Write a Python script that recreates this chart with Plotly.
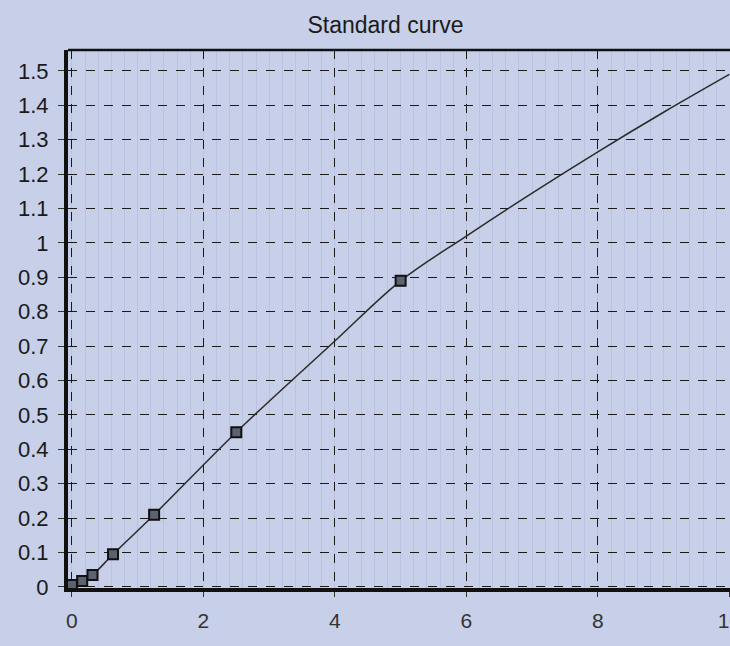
import plotly.graph_objects as go

# Standards (concentration vs absorbance)
std_conc = [0, 0.156, 0.3125, 0.625, 1.25, 2.5, 5]
std_abs = [0.006, 0.017, 0.035, 0.095, 0.21, 0.45, 0.89]

# Fitted curve
fit_conc = [0, 0.156, 0.3125, 0.625, 1.25, 2.5, 4, 5, 6, 7, 8, 9, 10]
fit_abs = [0.006, 0.017, 0.035, 0.095, 0.21, 0.45, 0.715, 0.89, 1.02, 1.145, 1.265, 1.38, 1.49]

y_ticks = [0, 0.1, 0.2, 0.3, 0.4, 0.5, 0.6, 0.7, 0.8, 0.9, 1, 1.1, 1.2, 1.3, 1.4, 1.5]
y_labels = ['0', '0.1', '0.2', '0.3', '0.4', '0.5', '0.6', '0.7', '0.8', '0.9',
            '1', '1.1', '1.2', '1.3', '1.4', '1.5']
x_ticks = [0, 2, 4, 6, 8, 10]

bg = '#c8cfe9'

fig = go.Figure()

fig.add_trace(go.Scatter(
    x=fit_conc, y=fit_abs, mode='lines',
    line=dict(color='#2a2a2a', width=1.5, shape='spline', smoothing=1.0),
    hoverinfo='skip', showlegend=False
))

fig.add_trace(go.Scatter(
    x=std_conc, y=std_abs, mode='markers',
    marker=dict(symbol='square', size=10, color='#5d6270',
                line=dict(color='#111111', width=2)),
    showlegend=False
))

# top border (thinner than the axes)
fig.add_shape(type='line', xref='paper', yref='paper', x0=0, x1=1, y0=1, y1=1,
              line=dict(color='#111111', width=2.5))

fig.update_layout(
    width=730, height=646,
    paper_bgcolor=bg, plot_bgcolor=bg,
    margin=dict(l=68, r=0, t=50, b=58),
    title=dict(text='Standard curve', x=0.528, xanchor='center',
               y=1 - 25 / 646, yanchor='middle',
               font=dict(family='Liberation Sans, Arial', size=23, color='#1a1a1a')),
    font=dict(family='Liberation Sans, Arial', color='#1a1a1a'),
    xaxis=dict(
        range=[-0.06, 10.01], tickvals=x_ticks, ticktext=[str(v) for v in x_ticks],
        showgrid=True, gridcolor='#1a1a1a', gridwidth=1.2, griddash='dash',
        showline=True, linecolor='#111111', linewidth=4,
        ticks='outside', ticklen=5, tickcolor='#333333', tickwidth=1,
        tickfont=dict(size=21, color='#333333'), ticklabelstandoff=6,
        ticklabeloverflow='allow', automargin=False,
        zeroline=False,
        minor=dict(dtick=0.2, showgrid=True, griddash='solid',
                   gridcolor='rgba(110,120,160,0.14)', gridwidth=1),
    ),
    yaxis=dict(
        range=[-0.003, 1.561], tickvals=y_ticks, ticktext=y_labels,
        showgrid=True, gridcolor='#1a1a1a', gridwidth=1.2, griddash='dash',
        showline=True, linecolor='#111111', linewidth=4,
        ticks='outside', ticklen=6, tickcolor='#333333', tickwidth=1,
        tickfont=dict(size=22, color='#1a1a1a'), ticklabelstandoff=5,
        automargin=False,
        zeroline=False,
    ),
)

fig.write_html("out.html",
               config={'displayModeBar': False},
               post_script="document.body.style.margin='0';"
                           "document.body.style.background='" + bg + "';")
